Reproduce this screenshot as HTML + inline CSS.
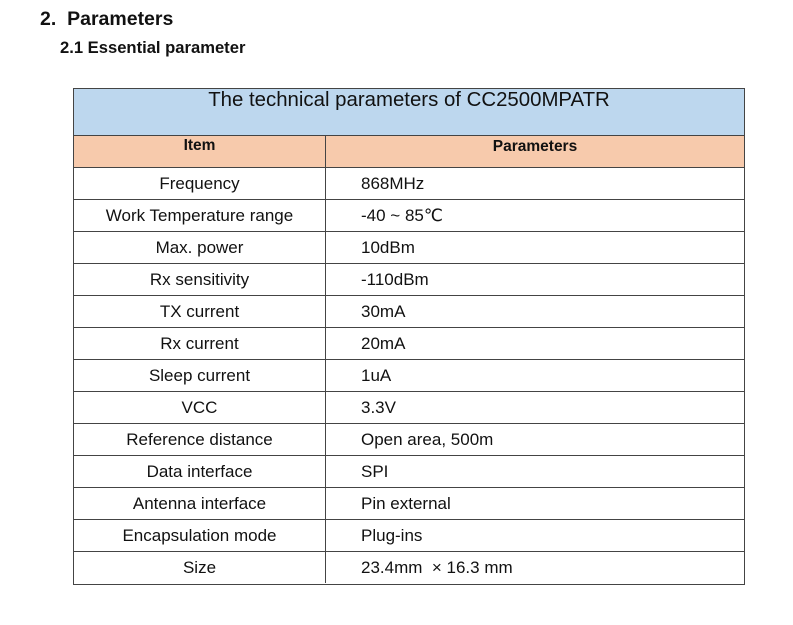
<!DOCTYPE html>
<html><head><meta charset="utf-8"><style>
body{margin:0;width:793px;height:625px;background:#fff;position:relative;font-family:"Liberation Sans","DejaVu Sans",sans-serif;color:#111;overflow:hidden}
.a{position:absolute}
.h1{left:40px;top:7px;font-size:19.5px;font-weight:bold;line-height:24px}
.h2{left:60px;top:37px;font-size:16.6px;font-weight:bold;line-height:22px}
.tbl{left:73px;top:88px;width:670px;height:495px;border:1px solid #444}
.title{left:0;top:0;width:670px;height:46px;background:#bdd7ee;border-bottom:1px solid #444;text-align:center;font-size:20.4px;line-height:22px}
.hdr{left:0;top:47px;width:670px;height:31px;background:#f7caac;border-bottom:1px solid #444;font-weight:bold;font-size:15.5px}
.row{left:0;width:670px;height:31px;border-bottom:1px solid #444;font-size:17px;line-height:31px}
.c1{position:absolute;left:0;width:251px;text-align:center;top:0;height:100%;border-right:1px solid #444}
.c2{position:absolute;left:287px;top:0}
</style></head><body>
<div class="a h1">2.&nbsp; Parameters</div>
<div class="a h2">2.1 Essential parameter</div>
<div class="a tbl">
<div class="a title">The technical parameters of CC2500MPATR</div>
<div class="a hdr"><div class="c1" style="line-height:20px">Item</div><div style="position:absolute;left:252px;width:418px;text-align:center;line-height:20px;top:1px">Parameters</div></div>
<div class="a row" style="top:79px"><div class="c1">Frequency</div><div class="c2">868MHz</div></div>
<div class="a row" style="top:111px"><div class="c1">Work Temperature range</div><div class="c2">-40 ~ 85℃</div></div>
<div class="a row" style="top:143px"><div class="c1">Max. power</div><div class="c2">10dBm</div></div>
<div class="a row" style="top:175px"><div class="c1">Rx sensitivity</div><div class="c2">-110dBm</div></div>
<div class="a row" style="top:207px"><div class="c1">TX current</div><div class="c2">30mA</div></div>
<div class="a row" style="top:239px"><div class="c1">Rx current</div><div class="c2">20mA</div></div>
<div class="a row" style="top:271px"><div class="c1">Sleep current</div><div class="c2">1uA</div></div>
<div class="a row" style="top:303px"><div class="c1">VCC</div><div class="c2">3.3V</div></div>
<div class="a row" style="top:335px"><div class="c1">Reference distance</div><div class="c2">Open area, 500m</div></div>
<div class="a row" style="top:367px"><div class="c1">Data interface</div><div class="c2">SPI</div></div>
<div class="a row" style="top:399px"><div class="c1">Antenna interface</div><div class="c2">Pin external</div></div>
<div class="a row" style="top:431px"><div class="c1">Encapsulation mode</div><div class="c2">Plug-ins</div></div>
<div class="a row" style="top:463px;border-bottom:none"><div class="c1">Size</div><div class="c2">23.4mm &nbsp;× 16.3 mm</div></div>
</div>
</body></html>
